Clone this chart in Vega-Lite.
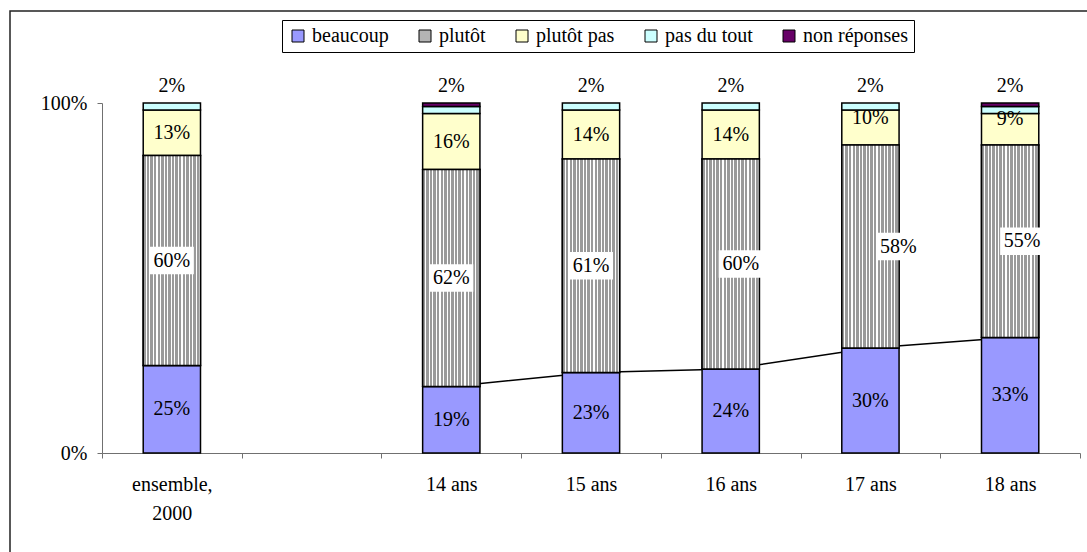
{
  "$schema": "https://vega.github.io/schema/vega-lite/v6.json",
  "width": 1082,
  "height": 545,
  "autosize": {"type": "none"},
  "padding": {"left": 10, "top": 11, "right": 0, "bottom": 0},
  "background": "white",
  "config": {
    "view": {"stroke": "#222222", "strokeWidth": 1.5},
    "font": "Liberation Serif",
    "legend": {"labelFont": "Liberation Serif", "labelFontSize": 20},
    "axisY": {"grid": false, "domainColor": "#707070", "tickColor": "#707070", "tickSize": 5, "labelFont": "Liberation Serif", "labelFontSize": 20, "labelColor": "black", "labelPadding": 10, "title": null},
    "axisX": {"grid": false, "tickBand": "extent", "labelAngle": 0, "domainColor": "#707070", "tickColor": "#707070", "tickSize": 5, "labelFont": "Liberation Serif", "labelFontSize": 20, "labelColor": "black", "labelPadding": 16, "labelLineHeight": 29, "title": null}
  },
  "data": {"values": [
    {"age": "ensemble, 2000", "rep": "beaucoup", "v": 0.25},
    {"age": "ensemble, 2000", "rep": "plutôt", "v": 0.60},
    {"age": "ensemble, 2000", "rep": "plutôt pas", "v": 0.13},
    {"age": "ensemble, 2000", "rep": "pas du tout", "v": 0.02},
    {"age": "14 ans", "rep": "beaucoup", "v": 0.19},
    {"age": "14 ans", "rep": "plutôt", "v": 0.62},
    {"age": "14 ans", "rep": "plutôt pas", "v": 0.16},
    {"age": "14 ans", "rep": "pas du tout", "v": 0.02},
    {"age": "14 ans", "rep": "non réponses", "v": 0.01},
    {"age": "15 ans", "rep": "beaucoup", "v": 0.23},
    {"age": "15 ans", "rep": "plutôt", "v": 0.61},
    {"age": "15 ans", "rep": "plutôt pas", "v": 0.14},
    {"age": "15 ans", "rep": "pas du tout", "v": 0.02},
    {"age": "16 ans", "rep": "beaucoup", "v": 0.24},
    {"age": "16 ans", "rep": "plutôt", "v": 0.60},
    {"age": "16 ans", "rep": "plutôt pas", "v": 0.14},
    {"age": "16 ans", "rep": "pas du tout", "v": 0.02},
    {"age": "17 ans", "rep": "beaucoup", "v": 0.30},
    {"age": "17 ans", "rep": "plutôt", "v": 0.58},
    {"age": "17 ans", "rep": "plutôt pas", "v": 0.10},
    {"age": "17 ans", "rep": "pas du tout", "v": 0.02},
    {"age": "18 ans", "rep": "beaucoup", "v": 0.33},
    {"age": "18 ans", "rep": "plutôt", "v": 0.55},
    {"age": "18 ans", "rep": "plutôt pas", "v": 0.09},
    {"age": "18 ans", "rep": "pas du tout", "v": 0.02},
    {"age": "18 ans", "rep": "non réponses", "v": 0.01}
  ]},
  "transform": [
    {"calculate": "indexof(['beaucoup','plutôt','plutôt pas','pas du tout','non réponses'], datum.rep)", "as": "ord"},
    {"stack": "v", "groupby": ["age"], "sort": [{"field": "ord", "order": "ascending"}], "as": ["y0", "y1"]},
    {"calculate": "(datum.y0 + datum.y1) / 2", "as": "mid"}
  ],
  "encoding": {
    "x": {"field": "age", "type": "nominal", "title": null,
      "scale": {"domain": ["ensemble, 2000", " ", "14 ans", "15 ans", "16 ans", "17 ans", "18 ans"], "range": [92, 1070], "paddingInner": 0, "paddingOuter": 0},
      "axis": {"offset": -103, "labelExpr": "datum.label == 'ensemble, 2000' ? ['ensemble,', '2000'] : datum.label"}}
  },
  "layer": [
    {
      "transform": [{"filter": "datum.rep == 'beaucoup' && datum.age != 'ensemble, 2000'"}],
      "mark": {"type": "line", "color": "black", "strokeWidth": 1.5},
      "encoding": {"y": {"field": "y1", "type": "quantitative", "title": null, "scale": {"domain": [0, 1], "range": [442, 92], "nice": false, "zero": false}, "axis": {"values": [0, 1], "format": "%", "offset": -92}}}
    },
    {
      "mark": {"type": "bar", "width": {"band": 0.41}, "stroke": "black", "strokeWidth": 1.5},
      "encoding": {
        "y": {"field": "y1", "type": "quantitative", "title": null, "scale": {"domain": [0, 1], "range": [442, 92], "nice": false, "zero": false}, "axis": {"values": [0, 1], "format": "%", "offset": -92}},
        "y2": {"field": "y0"},
        "color": {"field": "rep", "type": "nominal", "title": null,
          "scale": {"domain": ["beaucoup", "plutôt", "plutôt pas", "pas du tout", "non réponses"],
            "range": ["#9999ff", "#b4b4b4", "#ffffcc", "#ccffff", "#660066"]},
          "legend": {"orient": "none", "legendX": 272, "legendY": 9, "direction": "horizontal", "strokeColor": "black", "fillColor": "white", "padding": 6, "symbolType": "square", "symbolSize": 144, "symbolStrokeColor": "black", "symbolStrokeWidth": 1, "symbolOpacity": 1, "labelFont": "Liberation Serif", "labelFontSize": 20, "labelColor": "black", "labelOffset": 4, "columnPadding": 26, "labelLimit": 300,
            "encode": {
              "symbols": {"update": {"stroke": {"value": "black"}, "strokeWidth": {"value": 1}, "fill": [
                {"test": "datum.value == 'plutôt'", "value": {"gradient": "linear", "x1": 0, "y1": 0, "x2": 1, "y2": 0, "stops": [
                  {"offset": 0, "color": "#9a9a9a"}, {"offset": 0.16, "color": "#9a9a9a"}, {"offset": 0.16, "color": "#ffffff"}, {"offset": 0.25, "color": "#ffffff"},
                  {"offset": 0.25, "color": "#9a9a9a"}, {"offset": 0.41, "color": "#9a9a9a"}, {"offset": 0.41, "color": "#ffffff"}, {"offset": 0.5, "color": "#ffffff"},
                  {"offset": 0.5, "color": "#9a9a9a"}, {"offset": 0.66, "color": "#9a9a9a"}, {"offset": 0.66, "color": "#ffffff"}, {"offset": 0.75, "color": "#ffffff"},
                  {"offset": 0.75, "color": "#9a9a9a"}, {"offset": 0.91, "color": "#9a9a9a"}, {"offset": 0.91, "color": "#ffffff"}, {"offset": 1, "color": "#ffffff"}
                ]}},
                {"scale": "color", "field": "value"}
              ]}}
            }}}
      }
    },
    {
      "transform": [{"filter": "datum.rep == 'plutôt'"}],
      "mark": {"type": "bar", "width": {"band": 0.41}, "stroke": "black", "strokeWidth": 1.5,
        "fill": {"gradient": "linear", "x1": 0, "y1": 0, "x2": 1, "y2": 0, "stops": [
                {"offset": 0, "color": "#9a9a9a"}, {"offset": 0.0425, "color": "#9a9a9a"}, {"offset": 0.0425, "color": "#ffffff"}, {"offset": 0.0625, "color": "#ffffff"},
                {"offset": 0.0625, "color": "#9a9a9a"}, {"offset": 0.105, "color": "#9a9a9a"}, {"offset": 0.105, "color": "#ffffff"}, {"offset": 0.125, "color": "#ffffff"},
                {"offset": 0.125, "color": "#9a9a9a"}, {"offset": 0.1675, "color": "#9a9a9a"}, {"offset": 0.1675, "color": "#ffffff"}, {"offset": 0.1875, "color": "#ffffff"},
                {"offset": 0.1875, "color": "#9a9a9a"}, {"offset": 0.23, "color": "#9a9a9a"}, {"offset": 0.23, "color": "#ffffff"}, {"offset": 0.25, "color": "#ffffff"},
                {"offset": 0.25, "color": "#9a9a9a"}, {"offset": 0.2925, "color": "#9a9a9a"}, {"offset": 0.2925, "color": "#ffffff"}, {"offset": 0.3125, "color": "#ffffff"},
                {"offset": 0.3125, "color": "#9a9a9a"}, {"offset": 0.355, "color": "#9a9a9a"}, {"offset": 0.355, "color": "#ffffff"}, {"offset": 0.375, "color": "#ffffff"},
                {"offset": 0.375, "color": "#9a9a9a"}, {"offset": 0.4175, "color": "#9a9a9a"}, {"offset": 0.4175, "color": "#ffffff"}, {"offset": 0.4375, "color": "#ffffff"},
                {"offset": 0.4375, "color": "#9a9a9a"}, {"offset": 0.48, "color": "#9a9a9a"}, {"offset": 0.48, "color": "#ffffff"}, {"offset": 0.5, "color": "#ffffff"},
                {"offset": 0.5, "color": "#9a9a9a"}, {"offset": 0.5425, "color": "#9a9a9a"}, {"offset": 0.5425, "color": "#ffffff"}, {"offset": 0.5625, "color": "#ffffff"},
                {"offset": 0.5625, "color": "#9a9a9a"}, {"offset": 0.605, "color": "#9a9a9a"}, {"offset": 0.605, "color": "#ffffff"}, {"offset": 0.625, "color": "#ffffff"},
                {"offset": 0.625, "color": "#9a9a9a"}, {"offset": 0.6675, "color": "#9a9a9a"}, {"offset": 0.6675, "color": "#ffffff"}, {"offset": 0.6875, "color": "#ffffff"},
                {"offset": 0.6875, "color": "#9a9a9a"}, {"offset": 0.73, "color": "#9a9a9a"}, {"offset": 0.73, "color": "#ffffff"}, {"offset": 0.75, "color": "#ffffff"},
                {"offset": 0.75, "color": "#9a9a9a"}, {"offset": 0.7925, "color": "#9a9a9a"}, {"offset": 0.7925, "color": "#ffffff"}, {"offset": 0.8125, "color": "#ffffff"},
                {"offset": 0.8125, "color": "#9a9a9a"}, {"offset": 0.855, "color": "#9a9a9a"}, {"offset": 0.855, "color": "#ffffff"}, {"offset": 0.875, "color": "#ffffff"},
                {"offset": 0.875, "color": "#9a9a9a"}, {"offset": 0.9175, "color": "#9a9a9a"}, {"offset": 0.9175, "color": "#ffffff"}, {"offset": 0.9375, "color": "#ffffff"},
                {"offset": 0.9375, "color": "#9a9a9a"}, {"offset": 0.98, "color": "#9a9a9a"}, {"offset": 0.98, "color": "#ffffff"}, {"offset": 1, "color": "#ffffff"}
        ]}},
      "encoding": {
        "y": {"field": "y1", "type": "quantitative", "title": null, "scale": {"domain": [0, 1], "range": [442, 92], "nice": false, "zero": false}, "axis": {"values": [0, 1], "format": "%", "offset": -92}},
        "y2": {"field": "y0"}
      }
    },
    {
      "transform": [{"filter": "datum.rep == 'plutôt' && (datum.age == 'ensemble, 2000' || datum.age == '14 ans' || datum.age == '15 ans')"}],
      "mark": {"type": "point", "shape": "M-1,-0.62L1,-0.62L1,0.62L-1,0.62Z", "size": 1936, "filled": true, "fill": "white", "strokeWidth": 0, "opacity": 1},
      "encoding": {"y": {"field": "mid", "type": "quantitative", "title": null, "scale": {"domain": [0, 1], "range": [442, 92], "nice": false, "zero": false}, "axis": {"values": [0, 1], "format": "%", "offset": -92}}}
    },
    {
      "transform": [{"filter": "datum.rep == 'plutôt' && datum.age == '16 ans'"}],
      "mark": {"type": "point", "shape": "M-1,-0.62L1,-0.62L1,0.62L-1,0.62Z", "size": 1936, "filled": true, "fill": "white", "strokeWidth": 0, "opacity": 1, "xOffset": 10},
      "encoding": {"y": {"field": "mid", "type": "quantitative", "title": null, "scale": {"domain": [0, 1], "range": [442, 92], "nice": false, "zero": false}, "axis": {"values": [0, 1], "format": "%", "offset": -92}}}
    },
    {
      "transform": [{"filter": "datum.rep == 'plutôt' && datum.age == '17 ans'"}],
      "mark": {"type": "point", "shape": "M-1,-0.62L1,-0.62L1,0.62L-1,0.62Z", "size": 1936, "filled": true, "fill": "white", "strokeWidth": 0, "opacity": 1, "xOffset": 28},
      "encoding": {"y": {"field": "mid", "type": "quantitative", "title": null, "scale": {"domain": [0, 1], "range": [442, 92], "nice": false, "zero": false}, "axis": {"values": [0, 1], "format": "%", "offset": -92}}}
    },
    {
      "transform": [{"filter": "datum.rep == 'plutôt' && datum.age == '18 ans'"}],
      "mark": {"type": "point", "shape": "M-1,-0.62L1,-0.62L1,0.62L-1,0.62Z", "size": 1936, "filled": true, "fill": "white", "strokeWidth": 0, "opacity": 1, "xOffset": 12},
      "encoding": {"y": {"field": "mid", "type": "quantitative", "title": null, "scale": {"domain": [0, 1], "range": [442, 92], "nice": false, "zero": false}, "axis": {"values": [0, 1], "format": "%", "offset": -92}}}
    },
    {
      "transform": [{"filter": "datum.rep == 'beaucoup' || (datum.rep == 'plutôt' && (datum.age == 'ensemble, 2000' || datum.age == '14 ans' || datum.age == '15 ans')) || (datum.rep == 'plutôt pas' && datum.age != '17 ans' && datum.age != '18 ans')"}],
      "mark": {"type": "text", "font": "Liberation Serif", "fontSize": 20, "color": "black", "baseline": "middle", "align": "center"},
      "encoding": {
        "y": {"field": "mid", "type": "quantitative", "title": null, "scale": {"domain": [0, 1], "range": [442, 92], "nice": false, "zero": false}, "axis": {"values": [0, 1], "format": "%", "offset": -92}},
        "text": {"field": "v", "type": "quantitative", "format": ".0%"}
      }
    },
    {
      "transform": [{"filter": "datum.rep == 'plutôt' && datum.age == '16 ans'"}],
      "mark": {"type": "text", "font": "Liberation Serif", "fontSize": 20, "color": "black", "baseline": "middle", "align": "center", "dx": 10},
      "encoding": {
        "y": {"field": "mid", "type": "quantitative", "title": null, "scale": {"domain": [0, 1], "range": [442, 92], "nice": false, "zero": false}, "axis": {"values": [0, 1], "format": "%", "offset": -92}},
        "text": {"field": "v", "type": "quantitative", "format": ".0%"}
      }
    },
    {
      "transform": [{"filter": "datum.rep == 'plutôt' && datum.age == '17 ans'"}],
      "mark": {"type": "text", "font": "Liberation Serif", "fontSize": 20, "color": "black", "baseline": "middle", "align": "center", "dx": 28},
      "encoding": {
        "y": {"field": "mid", "type": "quantitative", "title": null, "scale": {"domain": [0, 1], "range": [442, 92], "nice": false, "zero": false}, "axis": {"values": [0, 1], "format": "%", "offset": -92}},
        "text": {"field": "v", "type": "quantitative", "format": ".0%"}
      }
    },
    {
      "transform": [{"filter": "datum.rep == 'plutôt' && datum.age == '18 ans'"}],
      "mark": {"type": "text", "font": "Liberation Serif", "fontSize": 20, "color": "black", "baseline": "middle", "align": "center", "dx": 12},
      "encoding": {
        "y": {"field": "mid", "type": "quantitative", "title": null, "scale": {"domain": [0, 1], "range": [442, 92], "nice": false, "zero": false}, "axis": {"values": [0, 1], "format": "%", "offset": -92}},
        "text": {"field": "v", "type": "quantitative", "format": ".0%"}
      }
    },
    {
      "transform": [{"filter": "datum.rep == 'plutôt pas' && (datum.age == '17 ans' || datum.age == '18 ans')"}],
      "mark": {"type": "text", "font": "Liberation Serif", "fontSize": 20, "color": "black", "baseline": "middle", "align": "center", "dy": -10},
      "encoding": {
        "y": {"field": "mid", "type": "quantitative", "title": null, "scale": {"domain": [0, 1], "range": [442, 92], "nice": false, "zero": false}, "axis": {"values": [0, 1], "format": "%", "offset": -92}},
        "text": {"field": "v", "type": "quantitative", "format": ".0%"}
      }
    },
    {
      "transform": [{"filter": "datum.rep == 'pas du tout'"}],
      "mark": {"type": "text", "font": "Liberation Serif", "fontSize": 20, "color": "black", "baseline": "alphabetic", "align": "center", "dy": -11},
      "encoding": {
        "y": {"datum": 1, "type": "quantitative", "title": null, "scale": {"domain": [0, 1], "range": [442, 92], "nice": false, "zero": false}, "axis": {"values": [0, 1], "format": "%", "offset": -92}},
        "text": {"field": "v", "type": "quantitative", "format": ".0%"}
      }
    }
  ]
}
